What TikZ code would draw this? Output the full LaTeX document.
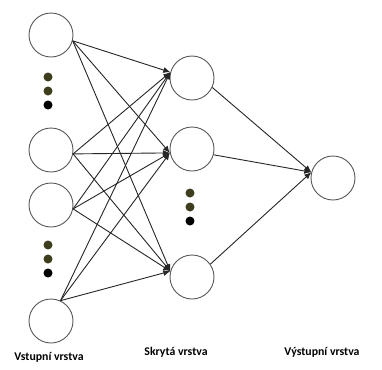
\documentclass[tikz,border=0pt]{standalone}
\usepackage{fontspec}
\setmainfont{Carlito}
\usetikzlibrary{arrows.meta}
\definecolor{olivedot}{RGB}{62,62,30}
\begin{document}
\begin{tikzpicture}[x=1bp,y=-1bp,
  neuron/.style={circle,draw=black!65,line width=0.9bp,minimum size=44bp,inner sep=0pt},
  link/.style={draw=black!85,line width=0.9bp,-{Latex[length=7bp,width=6bp]}},
  dotdark/.style={fill=olivedot},
  dotblack/.style={fill=black},
  layerlabel/.style={font=\bfseries\fontsize{11.8bp}{13bp}\selectfont}]
\fill[white] (0,0) rectangle (382,370);
\useasboundingbox (0,0) rectangle (382,370);

% input layer
\node[neuron] (i1) at (51,35) {};
\node[neuron] (i2) at (51,150) {};
\node[neuron] (i3) at (51,205) {};
\node[neuron] (i4) at (51,321) {};
% hidden layer
\node[neuron] (h1) at (192,78) {};
\node[neuron] (h2) at (192,149) {};
\node[neuron] (h3) at (192,277) {};
% output layer
\node[neuron] (o) at (333,178) {};

% ellipsis dots
\foreach \x/\y in {48/77, 190/193, 48/245}{
  \fill[dotdark] (\x,\y) circle (4.5bp);
  \fill[dotdark] (\x,\y+14) circle (4.5bp);
  \fill[dotblack] (\x,\y+28) circle (4.5bp);
}

% connection points
\coordinate (s1) at (i1.-15);
\coordinate (s2) at (i2.-10);
\coordinate (s3) at (i3.-10);
\coordinate (s4) at (i4.65);
\coordinate (t1) at (h1.165);
\coordinate (t2) at (h2.190);
\coordinate (t3) at (h3.165);
\coordinate (u1) at (h1.-25);
\coordinate (u2) at (h2.-15);
\coordinate (u3) at (h3.35);
\coordinate (v) at (o.165);

\foreach \s in {s1,s2,s3,s4}
  \foreach \t in {t1,t2,t3}
    \draw[link] (\s) -- (\t);
\foreach \u in {u1,u2,u3}
  \draw[link] (\u) -- (v);

% layer labels
\node[layerlabel] (li) at (49,357) {Vstupní vrstva};
\node[layerlabel] (lh) at (176,352) {Skrytá vrstva};
\node[layerlabel] (lo) at (322,352) {Výstupní vrstva};
\end{tikzpicture}
\end{document}
